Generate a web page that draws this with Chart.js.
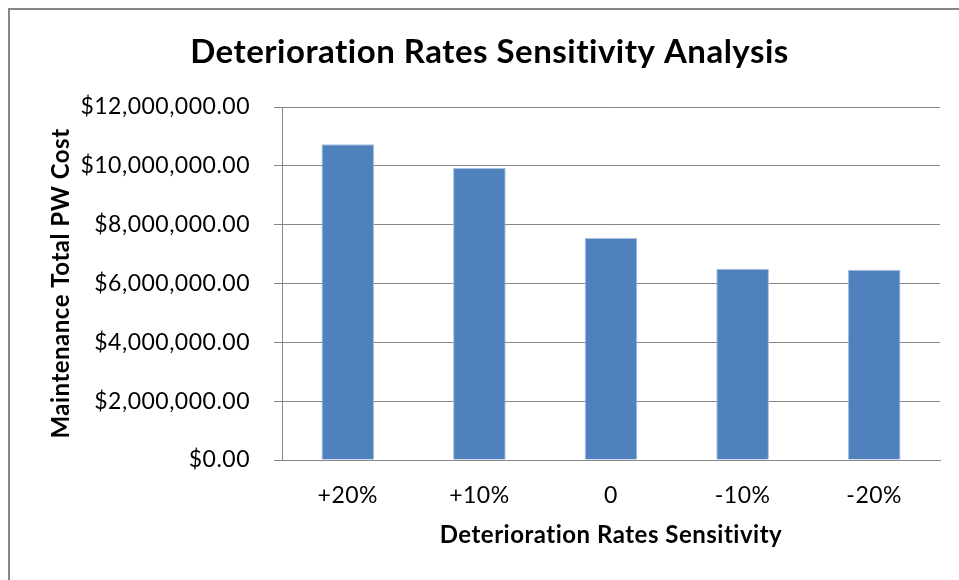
<!DOCTYPE html>
<html>
<head>
<meta charset="utf-8">
<title>Deterioration Rates Sensitivity Analysis</title>
<script src="https://cdn.jsdelivr.net/npm/chart.js@4.4.1/dist/chart.umd.min.js"></script>
<style>
  html, body { margin: 0; padding: 0; background: #ffffff; }
  #wrap { position: relative; width: 959px; height: 580px; }
  canvas { display: block; }
</style>
</head>
<body>
<div id="wrap"><canvas id="chart" width="959" height="580"></canvas></div>
<script>
// Sensitivity cases and the resulting maintenance cost (present worth, USD)
const categories = ['+20%', '+10%', '0', '-10%', '-20%'];
const totalPwCost = [10730000, 9930000, 7550000, 6500000, 6470000];

const yMin = 0;
const yMax = 12000000;
const yStep = 2000000;

const chartTitle = 'Deterioration Rates Sensitivity Analysis';
const xAxisTitle = 'Deterioration Rates Sensitivity';
const yAxisTitle = 'Maintenance Total PW Cost';

const FONT = 'Lato, "Open Sans", "Noto Sans", sans-serif';
const GRID = '#868686';

function money(v) {
  const neg = v < 0;
  const parts = Math.abs(v).toFixed(2).split('.');
  const whole = parts[0].replace(/\B(?=(\d{3})+(?!\d))/g, ',');
  return (neg ? '-' : '') + '$' + whole + '.' + parts[1];
}

// white background, a little tracking (keeps "ti" unligated) and a thin
// grey frame along the top and left edges of the chart object
const framePlugin = {
  id: 'frame',
  beforeInit(chart) { chart.ctx.letterSpacing = '0.5px'; },
  beforeLayout(chart) { chart.ctx.letterSpacing = '0.5px'; },
  beforeDraw(chart) {
    const ctx = chart.ctx;
    ctx.letterSpacing = '0.5px';
    ctx.save();
    ctx.fillStyle = '#ffffff';
    ctx.fillRect(0, 0, chart.width, chart.height);
    ctx.strokeStyle = '#878787';
    ctx.lineWidth = 2;
    ctx.beginPath();
    ctx.moveTo(9, chart.height + 2);
    ctx.lineTo(9, 9);
    ctx.lineTo(chart.width + 2, 9);
    ctx.stroke();
    ctx.restore();
  }
};

new Chart(document.getElementById('chart'), {
  type: 'bar',
  data: {
    labels: categories,
    datasets: [{
      label: yAxisTitle,
      data: totalPwCost,
      backgroundColor: '#4F81BD',
      borderColor: '#A9C0DE',
      borderWidth: 1,
      categoryPercentage: 1.0,
      barPercentage: 0.4
    }]
  },
  options: {
    responsive: false,
    animation: false,
    devicePixelRatio: 1,
    layout: { padding: { left: 39, right: 19, top: 0, bottom: 0 } },
    plugins: {
      legend: { display: false },
      tooltip: { enabled: false },
      title: {
        display: true,
        text: chartTitle,
        color: '#000000',
        font: { family: FONT, size: 33, weight: 'bold', lineHeight: 1.2 },
        padding: { top: 33, bottom: 34.4 }
      }
    },
    scales: {
      x: {
        grid: { display: false },
        border: { display: true, color: GRID, width: 1 },
        ticks: {
          color: '#000000',
          font: { family: FONT, size: 23, lineHeight: 1.2 },
          padding: 14,
          maxRotation: 0
        },
        title: {
          display: true,
          text: xAxisTitle,
          color: '#000000',
          font: { family: FONT, size: 24, weight: 'bold', lineHeight: 1.2 },
          padding: { top: 0, bottom: 30 }
        },
        afterFit(scale) { scale.height = 120; }
      },
      y: {
        min: yMin,
        max: yMax,
        grid: { color: GRID, lineWidth: 1, tickLength: 8, drawTicks: true },
        border: { display: true, color: GRID, width: 1 },
        ticks: {
          stepSize: yStep,
          color: '#000000',
          font: { family: FONT, size: 23, lineHeight: 1.2 },
          padding: 24,
          callback: (v) => money(v)
        },
        title: {
          display: true,
          text: yAxisTitle,
          color: '#000000',
          font: { family: FONT, size: 24, weight: 'bold', lineHeight: 1.2 },
          padding: { top: 8, bottom: 0 }
        },
        afterFit(scale) { scale.width = 243; }
      }
    }
  },
  plugins: [framePlugin]
});
</script>
</body>
</html>
